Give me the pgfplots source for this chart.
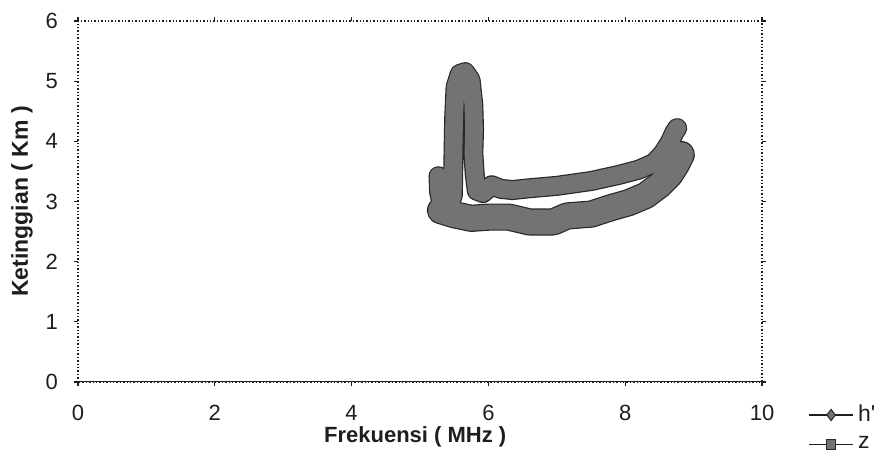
\documentclass[border=0pt]{standalone}
\usepackage{pgfplots}
\pgfplotsset{compat=1.18}
\usepackage{fontspec}
\setmainfont{Liberation Sans}
\definecolor{bandfill}{RGB}{115,115,115}
\definecolor{bandedge}{RGB}{40,40,40}
\definecolor{txt}{RGB}{30,30,30}

\pgfplotstableread{
x y
5.27 3.42
5.28 3.15
5.32 2.95
5.42 2.92
5.48 3.10
5.49 3.80
5.50 4.40
5.52 4.90
5.58 5.12
5.66 5.15
5.74 5.02
5.78 4.60
5.79 4.20
5.78 3.80
5.80 3.45
5.83 3.18
5.92 3.14
6.05 3.27
6.18 3.21
6.35 3.19
6.60 3.22
7.00 3.26
7.50 3.34
7.90 3.44
8.20 3.53
8.42 3.64
8.55 3.80
8.65 3.98
8.72 4.15
8.76 4.22
}\hdata

\pgfplotstableread{
x y
5.30 2.85
5.50 2.78
5.75 2.72
6.00 2.74
6.30 2.74
6.60 2.66
6.95 2.66
7.15 2.76
7.50 2.79
7.80 2.90
8.05 2.98
8.30 3.10
8.50 3.27
8.65 3.44
8.75 3.62
8.82 3.78
}\zdata

\begin{document}
\begin{tikzpicture}
\begin{axis}[
  at={(39pt,39.5pt)}, anchor=south west,
  scale only axis, width=342pt, height=180.5pt,
  xmin=0, xmax=10, ymin=0, ymax=6,
  xtick={0,2,4,6,8,10}, ytick={0,1,2,3,4,5,6},
  tick align=outside, major tick length=2pt,
  tick style={txt, solid, line width=0.6pt},
  axis line style={txt, densely dotted, line width=0.7pt},
  /pgf/number format/assume math mode=true,
  ticklabel style={font=\fontsize{11}{13}\selectfont, text=txt},
  xticklabel style={yshift=-6pt},
  yticklabel style={xshift=-4.5pt},
  xlabel={Frekuensi ( MHz )},
  ylabel={Ketinggian ( Km )},
  every axis x label/.style={at={(axis description cs:0.493,-0.152)}, anchor=center, font=\bfseries\fontsize{11}{13}\selectfont, text=txt},
  every axis y label/.style={at={(axis description cs:-0.082,0.5)}, anchor=center, rotate=90, font=\bfseries\fontsize{11.5}{13}\selectfont, text=txt},
  legend style={at={(1.067,-0.052)}, anchor=north west, draw=none, fill=none,
    font=\fontsize{11.5}{13}\selectfont, text=txt, inner sep=0pt, row sep=2pt,
    legend cell align=left},
  legend image code/.code={
    \draw[#1, mark repeat=2, mark phase=2] plot coordinates {(0pt,0pt) (11pt,0pt) (22pt,0pt)};
  },
]
% band outlines
\addplot[forget plot, bandedge, line width=10pt, line join=round, line cap=round] table {\hdata};
\addplot[forget plot, bandedge, line width=13.6pt, line join=round, line cap=round] table {\zdata};
% band fills
\addplot[forget plot, bandfill, line width=8.8pt, line join=round, line cap=round] table {\hdata};
\addplot[forget plot, bandfill, line width=12.4pt, line join=round, line cap=round] table {\zdata};
\draw[txt, line width=0.9pt] (rel axis cs:0,0) -- (rel axis cs:1,0);
\addlegendimage{txt, line width=0.9pt, mark=diamond*, mark size=2.8pt, mark options={fill=bandfill, draw=bandedge, line width=0.5pt}}
\addlegendentry{h\textquotesingle}
\addlegendimage{txt, line width=0.9pt, mark=square*, mark size=2.3pt, mark options={fill=bandfill, draw=bandedge, line width=0.5pt}}
\addlegendentry{z}
\end{axis}
\pgfresetboundingbox
\path[use as bounding box] (0,0) rectangle (445pt,230.5pt);
\end{tikzpicture}
\end{document}
